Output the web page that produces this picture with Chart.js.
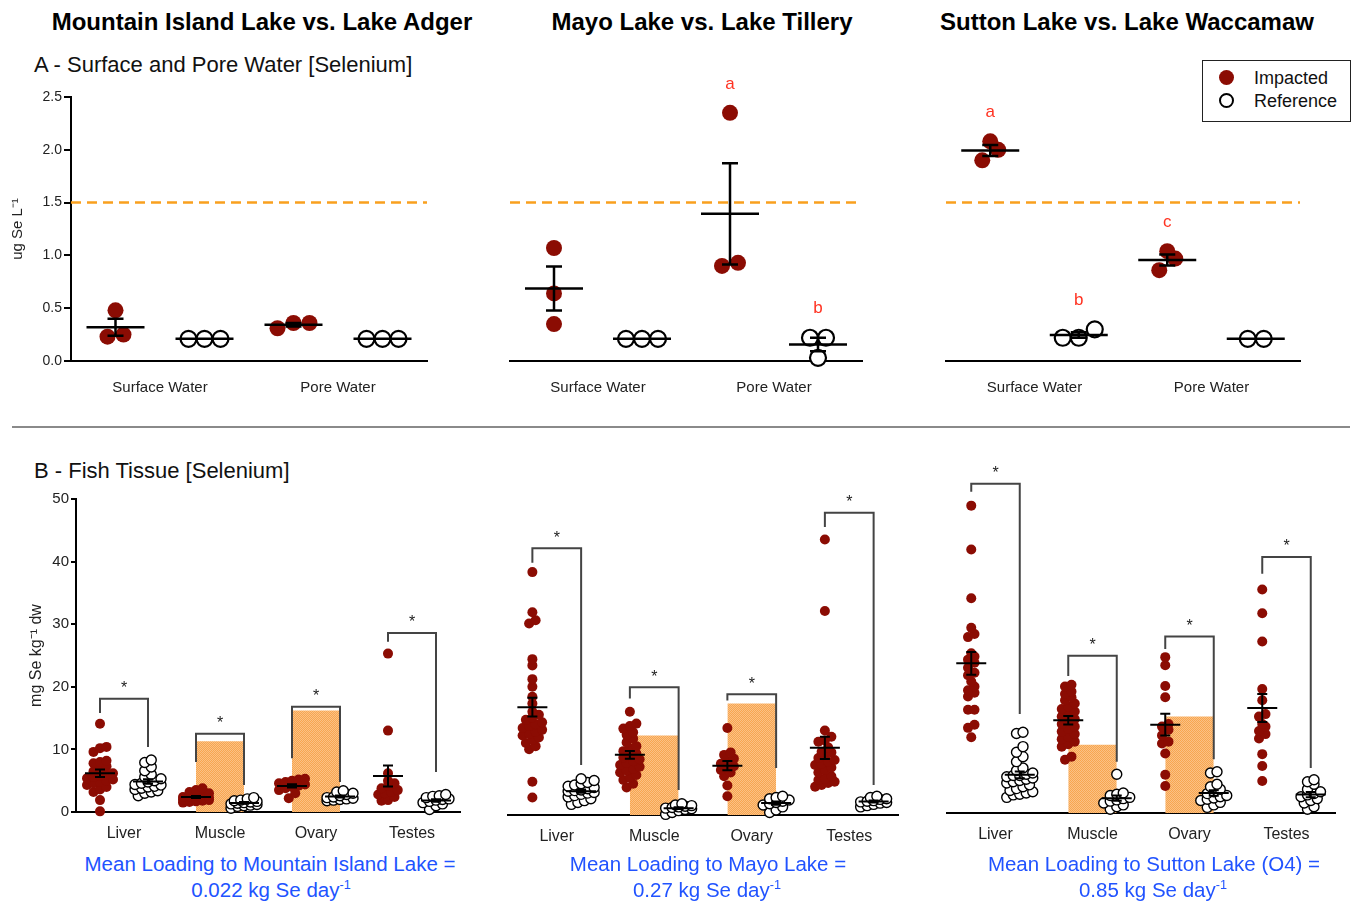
<!DOCTYPE html>
<html>
<head>
<meta charset="utf-8">
<script src="https://cdn.jsdelivr.net/npm/chart.js"></script>
<style>
  body { margin: 0; background: #fff; font-family: "Liberation Sans", Arial, Helvetica, sans-serif; }
  #page { position: relative; width: 1358px; height: 903px; overflow: hidden; }
  canvas { position: absolute; }
  .c { position: absolute; white-space: nowrap; transform: translate(-50%, -50%); }
  .l { position: absolute; white-space: nowrap; transform: translateY(-50%); }
  .head { font-weight: bold; font-size: 24px; color: #000; }
  .sec { font-size: 22px; color: #111; }
  .blue { font-size: 20.5px; color: #2153ff; }
  sup { font-size: 0.62em; line-height: 0; }
  #legend { position: absolute; left: 1202px; top: 60px; width: 147px; height: 60px; border: 1.5px solid #222; background: #fff; z-index: 2; }
  .dot { position: absolute; width: 15px; height: 15px; border-radius: 50%; box-sizing: border-box; }
  .ltxt { position: absolute; font-size: 18px; color: #111; transform: translateY(-50%); }
  #sep { position: absolute; left: 12px; top: 426px; width: 1338px; height: 1.5px; background: #8a8a8a; }
</style>
</head>
<body>
<div id="page">
  <div class="c head" style="left:262px;top:22px">Mountain Island Lake vs. Lake Adger</div>
  <div class="c head" style="left:702px;top:22px">Mayo Lake vs. Lake Tillery</div>
  <div class="c head" style="left:1127px;top:22px">Sutton Lake vs. Lake Waccamaw</div>
  <div class="l sec" style="left:34px;top:65px">A - Surface and Pore Water [Selenium]</div>
  <div class="l sec" style="left:34px;top:471px">B - Fish Tissue [Selenium]</div>
  <div id="sep"></div>
  <div id="legend">
    <span class="dot" style="left:16px;top:9px;background:#8b0c03"></span>
    <span class="ltxt" style="left:51px;top:17px">Impacted</span>
    <span class="dot" style="left:16px;top:32px;border:2.5px solid #000;background:#fff"></span>
    <span class="ltxt" style="left:51px;top:40px">Reference</span>
  </div>

  <canvas id="waterA" width="447" height="331" style="left:0px;top:70px"></canvas>
  <canvas id="waterB" width="392" height="331" style="left:490px;top:70px"></canvas>
  <canvas id="waterC" width="394" height="331" style="left:926px;top:70px"></canvas>
  <canvas id="fishA" width="480" height="397" style="left:0px;top:455px"></canvas>
  <canvas id="fishB" width="430" height="400" style="left:488px;top:455px"></canvas>
  <canvas id="fishC" width="428" height="398" style="left:927px;top:455px"></canvas>

  <div class="c blue" style="left:270px;top:864px">Mean Loading to Mountain Island Lake =</div>
  <div class="c blue" style="left:271px;top:890px">0.022 kg Se day<sup>-1</sup></div>
  <div class="c blue" style="left:708px;top:864px">Mean Loading to Mayo Lake =</div>
  <div class="c blue" style="left:707px;top:890px">0.27 kg Se day<sup>-1</sup></div>
  <div class="c blue" style="left:1154px;top:864px">Mean Loading to Sutton Lake (O4) =</div>
  <div class="c blue" style="left:1153px;top:890px">0.85 kg Se day<sup>-1</sup></div>
</div>

<script>
// ---- data ----
const waterCategories = ['Surface Water', 'Pore Water'];
const fishCategories = ['Liver', 'Muscle', 'Ovary', 'Testes'];
const waterTicks = [0, 0.5, 1, 1.5, 2, 2.5];
const fishTicks = [0, 10, 20, 30, 40, 50];
const waterCriterion = 1.5; // ug Se/L, dashed line

// ug Se/L; groups: impacted SW, reference SW, impacted PW, reference PW
const waterMtnIsland = [[0.48, 0.23, 0.25], [0.21, 0.21, 0.21], [0.36, 0.31, 0.36], [0.21, 0.21, 0.21]];
const waterMayo = [[1.07, 0.64, 0.35], [0.21, 0.21, 0.21], [2.35, 0.90, 0.93], [0.22, 0.22, 0.03]];
const waterSutton = [[2.08, 1.90, 2.00], [0.30, 0.22, 0.22], [1.04, 0.86, 0.97], [0.21, 0.21]];
const lettersMayo = ['', '', 'a', 'b'];
const lettersSutton = ['a', 'b', 'c', ''];

// mg Se/kg dw; groups: liver imp/ref, muscle imp/ref, ovary imp/ref, testes imp/ref
const fishMtnIsland = [
  [14.1, 10.4, 10.2, 9.6, 8.2, 8.0, 7.8, 7.3, 6.9, 6.5, 6.2, 6.0, 5.8, 5.6, 5.4, 5.2, 5.0, 4.8, 4.6, 4.3, 4.0, 3.6, 3.2, 1.9, 0.1],
  [8.3, 7.9, 7.2, 6.6, 6.0, 5.6, 5.3, 5.0, 4.8, 4.6, 4.4, 4.3, 4.1, 4.0, 3.8, 3.6, 3.4, 3.2, 3.0, 2.6],
  [3.8, 3.5, 3.2, 3.0, 2.8, 2.6, 2.5, 2.4, 2.3, 2.2, 2.1, 2.0, 2.0, 1.9, 1.8, 1.7, 1.6, 1.5],
  [2.3, 2.1, 1.9, 1.8, 1.7, 1.6, 1.5, 1.4, 1.3, 1.2, 1.1, 1.0, 0.9, 0.6],
  [5.3, 5.2, 5.0, 4.8, 4.6, 4.4, 4.2, 4.0, 3.8, 3.5, 3.0, 2.2],
  [3.4, 3.2, 3.0, 2.8, 2.6, 2.4, 2.3, 2.2, 2.1, 2.0, 1.9, 1.8],
  [25.3, 13.0, 6.2, 5.0, 4.6, 4.2, 3.8, 3.5, 3.2, 3.0, 2.8, 2.4, 1.9, 1.8],
  [2.8, 2.6, 2.5, 2.3, 2.1, 2.0, 1.9, 1.7, 1.5, 1.3, 1.0, 0.4]
];
const fishMayo = [
  [38.8, 32.4, 31.1, 30.6, 24.9, 23.9, 21.7, 20.5, 18.9, 17.8, 16.5, 16.0, 15.6, 15.2, 14.8, 14.5, 14.2, 13.9, 13.6, 13.3, 13.0, 12.7, 12.4, 12.0, 11.5, 11.0, 10.5, 5.3, 2.8],
  [5.8, 5.5, 5.2, 5.0, 4.8, 4.6, 4.4, 4.2, 4.0, 3.9, 3.8, 3.6, 3.5, 3.3, 3.1, 2.9, 2.6, 2.3, 2.0, 1.7],
  [16.5, 14.6, 14.2, 13.8, 13.2, 12.8, 12.2, 11.6, 11.0, 10.6, 10.2, 9.8, 9.5, 9.2, 8.9, 8.6, 8.3, 8.0, 7.7, 7.4, 7.1, 6.8, 6.4, 6.0, 5.6, 5.0, 4.4],
  [1.8, 1.6, 1.5, 1.4, 1.3, 1.2, 1.1, 1.0, 0.9, 0.7, 0.4, 0.1],
  [13.9, 10.0, 9.6, 9.0, 8.5, 8.2, 7.8, 7.5, 7.2, 6.8, 6.2, 4.7, 3.0],
  [3.0, 2.8, 2.6, 2.4, 2.2, 2.0, 1.8, 1.6, 1.3, 0.8, 0.4],
  [44.0, 32.6, 13.5, 12.5, 11.9, 11.7, 10.8, 10.1, 10.0, 9.6, 9.1, 8.8, 8.5, 8.2, 8.0, 7.6, 7.2, 6.8, 6.2, 5.8, 5.6, 5.3, 5.1, 4.8, 4.5],
  [3.0, 2.8, 2.6, 2.5, 2.3, 2.2, 2.1, 2.0, 1.9, 1.7, 1.5, 1.3]
];
const fishSutton = [
  [49.1, 42.1, 34.3, 29.6, 28.6, 28.1, 25.5, 25.0, 24.5, 24.0, 23.2, 22.4, 22.0, 21.0, 20.2, 19.6, 19.2, 18.6, 16.5, 16.5, 14.1, 13.6, 12.1],
  [12.9, 12.7, 10.6, 9.7, 9.0, 8.2, 7.2, 6.8, 6.4, 6.0, 6.2, 6.0, 5.8, 5.6, 5.4, 5.2, 5.0, 4.8, 4.5, 4.2, 3.9, 3.6, 3.4, 3.2, 3.0, 2.9, 2.5],
  [20.5, 20.2, 19.4, 19.0, 18.5, 18.0, 17.5, 17.0, 16.6, 16.2, 15.8, 15.4, 15.0, 14.6, 14.2, 13.8, 13.4, 13.0, 12.6, 12.2, 11.8, 11.4, 11.0, 10.6, 9.0, 8.5],
  [6.2, 3.2, 3.0, 2.8, 2.5, 2.3, 2.1, 1.9, 1.6, 1.3, 1.0, 0.6],
  [24.9, 23.6, 20.3, 18.5, 14.2, 13.8, 13.3, 12.4, 11.4, 11.1, 9.5, 6.1, 4.3],
  [6.6, 6.4, 4.6, 4.2, 3.8, 3.4, 3.1, 2.8, 2.6, 2.4, 2.2, 2.0, 1.7, 1.3, 0.9],
  [35.7, 31.9, 27.4, 19.8, 18.0, 15.8, 15.4, 14.2, 13.8, 13.1, 12.6, 11.9, 9.4, 7.5, 5.1],
  [5.3, 5.0, 4.6, 3.8, 3.4, 3.1, 2.9, 2.6, 2.3, 2.0, 1.6, 1.0, 0.6]
];
// shaded threshold bars: [muscle, ovary]
const thresholdsMtnIsland = [11.3, 16.2];
const thresholdsMayo = [12.7, 17.8];
const thresholdsSutton = [10.9, 15.4];
// significance brackets per tissue: [top, left leg end, right leg end]
const bracketsMtnIsland = [[18.1, 15.8, 10.4], [12.5, 8.0, 4.3], [16.8, 8.6, 4.8], [28.6, 27.2, 6.4]];
const bracketsMayo = [[42.6, 40.3, 8.0], [20.4, 18.6, 4.0], [19.3, 18.3, 7.5], [48.3, 46.0, 4.8]];
const bracketsSutton = [[52.6, 51.3, 15.8], [25.1, 21.9, 8.2], [28.2, 26.2, 8.6], [40.9, 38.2, 7.2]];

// ---- drawing ----
Chart.defaults.font.family = '"Liberation Sans", Arial, Helvetica, sans-serif';
const IMPACTED = '#8b0c03';

function meanSE(vals) {
  const n = vals.length;
  const m = vals.reduce((a, b) => a + b, 0) / n;
  const sd = Math.sqrt(vals.reduce((a, b) => a + (b - m) * (b - m), 0) / (n - 1));
  return { m, se: sd / Math.sqrt(n) };
}

// prism-like scatter: points in the same row spread symmetrically around the column
function swarm(vals, center, xs, ys, rowPx, gapPx, maxRow) {
  const cx = xs.getPixelForValue(center);
  const rows = [];
  vals.slice().sort((a, b) => a - b).forEach(v => {
    const py = ys.getPixelForValue(v);
    const row = rows[rows.length - 1];
    if (row && row.start - py < rowPx && row.items.length < maxRow) row.items.push(v);
    else rows.push({ start: py, items: [v] });
  });
  const out = [];
  rows.forEach(r => {
    const n = r.items.length;
    r.items.forEach((v, k) => {
      out.push({ x: xs.getValueForPixel(cx + (k - (n - 1) / 2) * gapPx), y: v });
    });
  });
  return out;
}

function statsPlugin(o) {
  return {
    id: 'stats',
    afterDatasetsDraw(chart) {
      const ctx = chart.ctx, xs = chart.scales.x, ys = chart.scales.y;
      ctx.save();
      ctx.strokeStyle = '#000';
      ctx.lineWidth = o.lineW;
      o.groups.forEach((vals, i) => {
        const s = meanSE(vals);
        const cx = xs.getPixelForValue(i + 1);
        const pm = ys.getPixelForValue(s.m);
        const pt = ys.getPixelForValue(s.m + s.se);
        const pb = ys.getPixelForValue(s.m - s.se);
        ctx.beginPath();
        ctx.moveTo(cx - o.meanHalf, pm); ctx.lineTo(cx + o.meanHalf, pm);
        ctx.moveTo(cx, pt); ctx.lineTo(cx, pb);
        ctx.moveTo(cx - o.capHalf, pt); ctx.lineTo(cx + o.capHalf, pt);
        ctx.moveTo(cx - o.capHalf, pb); ctx.lineTo(cx + o.capHalf, pb);
        ctx.stroke();
      });
      if (o.letters) {
        ctx.fillStyle = '#ff3322';
        ctx.font = '17px "Liberation Sans", Arial, sans-serif';
        ctx.textAlign = 'center';
        ctx.textBaseline = 'middle';
        o.letters.forEach((t, i) => {
          if (!t) return;
          const top = ys.getPixelForValue(Math.max(...o.groups[i]));
          ctx.fillText(t, xs.getPixelForValue(i + 1), top - 29);
        });
      }
      if (o.brackets) {
        ctx.strokeStyle = '#444';
        ctx.lineWidth = 2;
        ctx.fillStyle = '#222';
        ctx.font = '16px "Liberation Sans", Arial, sans-serif';
        ctx.textAlign = 'center';
        ctx.textBaseline = 'middle';
        o.brackets.forEach((b, k) => {
          const lx = xs.getPixelForValue(2 * k + 1), rx = xs.getPixelForValue(2 * k + 2);
          const top = ys.getPixelForValue(b[0]);
          ctx.beginPath();
          ctx.moveTo(lx, ys.getPixelForValue(b[1]));
          ctx.lineTo(lx, top);
          ctx.lineTo(rx, top);
          ctx.lineTo(rx, ys.getPixelForValue(b[2]));
          ctx.stroke();
          ctx.fillText('*', (lx + rx) / 2, top - 10);
        });
      }
      ctx.restore();
    }
  };
}

function hatch(ctx) {
  const c = document.createElement('canvas');
  c.width = c.height = 2;
  const g = c.getContext('2d');
  g.fillStyle = '#fbc185';
  g.fillRect(0, 0, 2, 2);
  g.fillStyle = '#f7a650';
  g.fillRect(0, 0, 1, 1);
  g.fillRect(1, 1, 1, 1);
  return ctx.createPattern(c, 'repeat');
}

function makeChart(id, o) {
  const ctx = document.getElementById(id).getContext('2d');
  const datasets = o.groups.map((vals, i) => ({
    label: i % 2 ? 'Reference' : 'Impacted',
    data: vals.map(v => ({ x: i + 1, y: v })),
    pointRadius: o.radius,
    pointHoverRadius: o.radius,
    pointBackgroundColor: i % 2 ? '#fff' : IMPACTED,
    pointBorderColor: i % 2 ? '#000' : IMPACTED,
    pointBorderWidth: i % 2 ? o.refBorder : 0,
    clip: false,
    order: 0
  }));
  if (o.criterion !== undefined) {
    datasets.push({
      type: 'line',
      data: [{ x: 0.5, y: o.criterion }, { x: o.xMax, y: o.criterion }],
      borderColor: '#f9a01e', borderWidth: 2.5, borderDash: [10, 6],
      pointRadius: 0, clip: false, order: 1
    });
  }
  if (o.thresholds) {
    const pat = hatch(ctx);
    o.thresholds.forEach((h, k) => {
      const x0 = 3 + 2 * k; // muscle, ovary columns
      datasets.push({
        type: 'line',
        data: [{ x: x0, y: h }, { x: x0 + 1, y: h }],
        borderWidth: 0, borderColor: 'rgba(0,0,0,0)', backgroundColor: pat,
        fill: 'origin', pointRadius: 0, order: 2
      });
    });
  }
  const chart = new Chart(ctx, {
    type: 'scatter',
    data: { datasets },
    options: {
      responsive: false,
      animation: false,
      events: [],
      layout: { padding: { left: o.padL, top: o.padT, right: 20, bottom: 0 } },
      plugins: { legend: { display: false }, tooltip: { enabled: false } },
      scales: {
        x: {
          type: 'linear', min: 0.5, max: o.xMax,
          afterBuildTicks: s => { s.ticks = o.catPos.map(v => ({ value: v })); },
          afterFit: s => { s.height = 40; },
          grid: { display: false },
          border: { display: true, color: '#000', width: 2 },
          ticks: {
            autoSkip: false, maxRotation: 0, padding: o.xPad, color: '#222',
            font: { size: o.xFont },
            callback: (v, i) => o.cats[i]
          }
        },
        y: {
          display: o.showY, min: 0, max: o.yMax,
          afterBuildTicks: s => { s.ticks = o.yTicks.map(v => ({ value: v })); },
          afterFit: s => { s.width = o.axisW; },
          grid: { drawOnChartArea: false, drawTicks: true, tickLength: o.tickLen, color: '#000', lineWidth: 2 },
          border: { display: true, color: '#000', width: 2 },
          ticks: {
            padding: 2, color: '#222', font: { size: o.yFont },
            callback: v => o.yDec ? v.toFixed(1) : String(v)
          },
          title: {
            display: !!o.yTitle, text: o.yTitle, color: '#222',
            font: { size: o.titleFont }, padding: { top: o.titlePad, bottom: 0 }
          }
        }
      }
    },
    plugins: [statsPlugin(o)]
  });
  o.groups.forEach((vals, i) => {
    chart.data.datasets[i].data = swarm(vals, i + 1, chart.scales.x, chart.scales.y, o.rowPx, o.gapPx, o.maxRow);
  });
  chart.update('none');
  return chart;
}

const waterBase = {
  xMax: 4.5, yMax: 2.5, yTicks: waterTicks, yDec: true, cats: waterCategories, catPos: [1.5, 3.5],
  criterion: waterCriterion, radius: 8, refBorder: 2.2, rowPx: 16, gapPx: 16, maxRow: 4,
  meanHalf: 29, capHalf: 8, lineW: 2.5, padT: 27, xPad: 10, xFont: 15, yFont: 14, tickLen: 7
};
const fishBase = {
  xMax: 8.5, yMax: 50, yTicks: fishTicks, yDec: false, cats: fishCategories, catPos: [1.5, 3.5, 5.5, 7.5],
  radius: 5, refBorder: 1.4, rowPx: 6, gapPx: 6.5, maxRow: 5,
  meanHalf: 15, capHalf: 5, lineW: 2, xPad: 4, xFont: 16, yFont: 15, tickLen: 5
};

makeChart('waterA', Object.assign({}, waterBase, {
  groups: waterMtnIsland, showY: true, axisW: 71, padL: 0,
  yTitle: 'ug Se L\u207B\u00B9', titleFont: 15, titlePad: 9
}));
makeChart('waterB', Object.assign({}, waterBase, {
  groups: waterMayo, showY: false, axisW: 0, padL: 20, letters: lettersMayo
}));
makeChart('waterC', Object.assign({}, waterBase, {
  groups: waterSutton, showY: false, axisW: 0, padL: 20, letters: lettersSutton
}));
makeChart('fishA', Object.assign({}, fishBase, {
  groups: fishMtnIsland, thresholds: thresholdsMtnIsland, brackets: bracketsMtnIsland,
  showY: true, axisW: 76, padL: 0, padT: 44,
  yTitle: 'mg Se kg\u207B\u00B9 dw', titleFont: 16, titlePad: 27
}));
makeChart('fishB', Object.assign({}, fishBase, {
  groups: fishMayo, thresholds: thresholdsMayo, brackets: bracketsMayo,
  showY: false, axisW: 0, padL: 20, padT: 47
}));
makeChart('fishC', Object.assign({}, fishBase, {
  groups: fishSutton, thresholds: thresholdsSutton, brackets: bracketsSutton,
  showY: false, axisW: 0, padL: 20, padT: 45
}));
</script>
</body>
</html>
